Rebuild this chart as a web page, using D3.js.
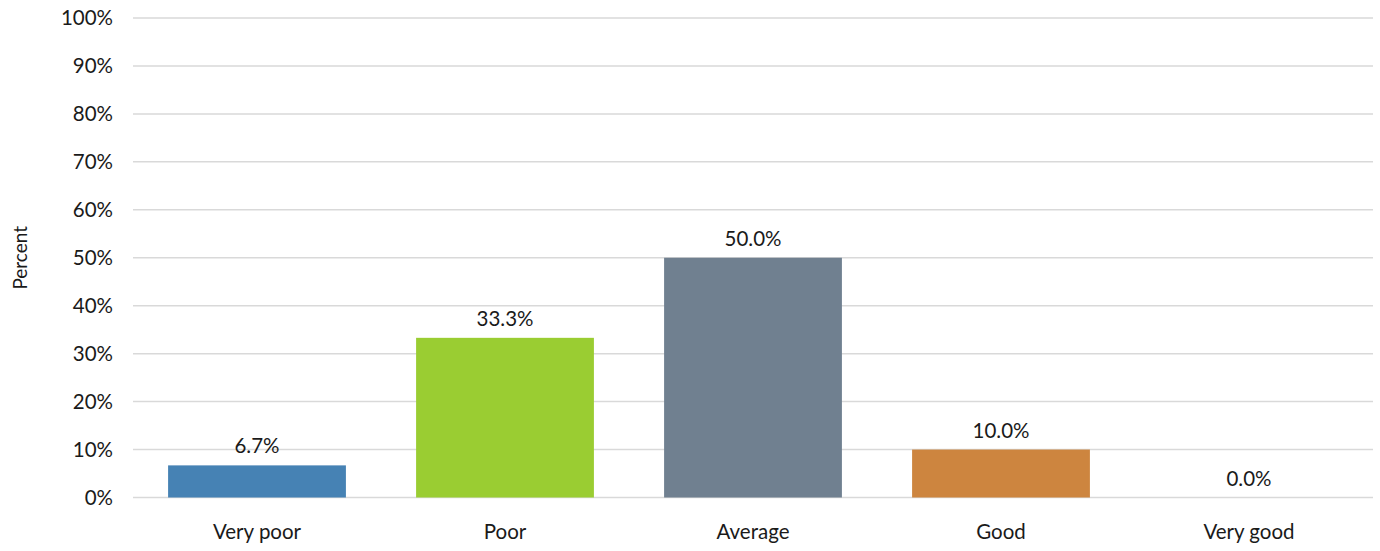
<!DOCTYPE html>
<html>
<head>
<meta charset="utf-8">
<script src="https://cdn.jsdelivr.net/npm/d3@7"></script>
<style>
  html, body { margin: 0; padding: 0; background: #fff; }
  svg text { font-family: Lato, "Open Sans", sans-serif; fill: #1a1a1a; }
</style>
</head>
<body>
<svg id="chart" width="1380" height="551"></svg>
<script>
// Rating categories and the share of responses for each
const categories = ["Very poor", "Poor", "Average", "Good", "Very good"];
const percents = [6.7, 33.3, 50.0, 10.0, 0.0];
const barColors = ["#4682B4", "#9ACD32", "#708090", "#CD853F", "#5B9BD5"];
const yTicks = [0, 10, 20, 30, 40, 50, 60, 70, 80, 90, 100];

const fontSize = 20.5;
const fontFamily = "Lato, 'Open Sans', sans-serif";

const svg = d3.select("#chart");
const margin = { top: 18, right: 7, bottom: 53.5, left: 133 };
const width = 1380 - margin.left - margin.right;
const height = 551 - margin.top - margin.bottom;

const g = svg.append("g").attr("transform", `translate(${margin.left},${margin.top})`);

const x = d3.scaleBand().domain(categories).range([0, width]).paddingInner(0.283).paddingOuter(0.1415);
const y = d3.scaleLinear().domain([0, 100]).range([height, 0]);

// Horizontal gridlines
g.append("g").selectAll("line").data(yTicks).join("line")
  .attr("x1", 0).attr("x2", width)
  .attr("y1", d => y(d)).attr("y2", d => y(d))
  .attr("stroke", "#d9d9d9").attr("stroke-width", 1.5);

// Y axis labels
const yAxis = g.append("g")
  .call(d3.axisLeft(y).tickValues(yTicks).tickFormat(d => d + "%").tickSize(0).tickPadding(20));
yAxis.select(".domain").remove();
yAxis.selectAll("text").attr("font-size", fontSize).style("font-family", fontFamily).attr("fill", "#1a1a1a");

// X axis labels
const xAxis = g.append("g").attr("transform", `translate(0,${height})`)
  .call(d3.axisBottom(x).tickSize(0).tickPadding(27));
xAxis.select(".domain").remove();
xAxis.selectAll("text").attr("font-size", fontSize).style("font-family", fontFamily).attr("fill", "#1a1a1a");

// Bars
g.append("g").selectAll("rect").data(categories).join("rect")
  .attr("x", d => x(d))
  .attr("width", x.bandwidth())
  .attr("y", (d, i) => y(percents[i]))
  .attr("height", (d, i) => height - y(percents[i]))
  .attr("fill", (d, i) => barColors[i]);

// Value labels above bars
g.append("g").selectAll("text").data(categories).join("text")
  .attr("x", d => x(d) + x.bandwidth() / 2)
  .attr("y", (d, i) => y(percents[i]) - 12)
  .attr("text-anchor", "middle")
  .attr("font-size", fontSize)
  .text((d, i) => percents[i].toFixed(1) + "%");

// Y axis title
svg.append("text")
  .attr("transform", `translate(27,${margin.top + height / 2}) rotate(-90)`)
  .attr("text-anchor", "middle")
  .attr("font-size", 19)
  .text("Percent");
</script>
</body>
</html>
